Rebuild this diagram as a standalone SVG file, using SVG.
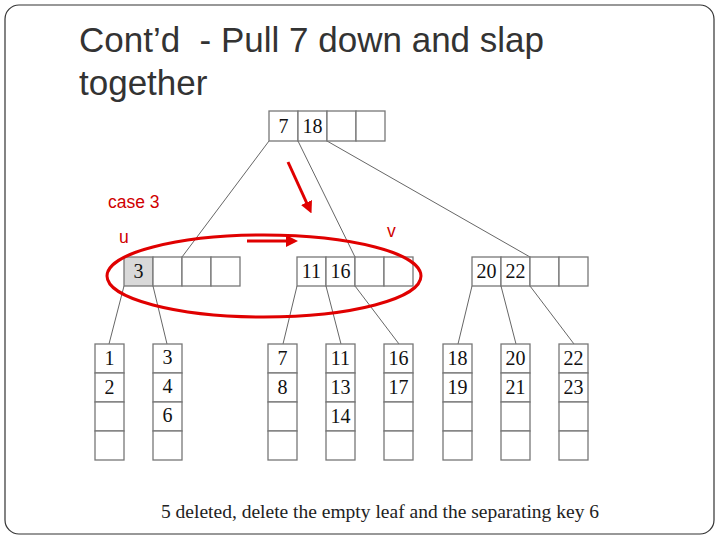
<svg xmlns="http://www.w3.org/2000/svg" width="720" height="540" viewBox="0 0 720 540">
<style>
.c{fill:#fff;stroke:#777;stroke-width:1.3}
.g{fill:#d9d9d9;stroke:#777;stroke-width:1.3}
.t{font-family:"Liberation Serif",serif;font-size:20px;fill:#111;text-anchor:middle}
.e{stroke:#555;stroke-width:0.9;fill:none}
.r{font-family:"Liberation Sans",sans-serif;font-size:17.5px;fill:#d00000}
</style>
<defs><marker id="ah" markerWidth="4" markerHeight="4" refX="2" refY="2" orient="auto"><path d="M0,0L4,2L0,4z" fill="#e00000"/></marker></defs>
<rect x="5" y="5" width="709" height="529" rx="14" fill="#fff" stroke="#333" stroke-width="1.2"/>
<text x="79" y="52" font-family="Liberation Sans,sans-serif" font-size="35" fill="#333" xml:space="preserve">Cont’d  - Pull 7 down and slap</text>
<text x="79" y="95" font-family="Liberation Sans,sans-serif" font-size="35" fill="#333">together</text>
<g id="connectors">
<path class="e" d="M269,141L182,257M298,141L355,257M327,141L530,257M124,286L109,344M153,286L167,344M297,286L283,344M326,286L341,344M355,286L399,344M472,286L458,344M501,286L516,344M530,286L574,344"/>
</g>
<g id="root"><rect class="c" x="269" y="111" width="29" height="30"/><rect class="c" x="298" y="111" width="29" height="30"/><rect class="c" x="327" y="111" width="29" height="30"/><rect class="c" x="356" y="111" width="29" height="30"/><text class="t" x="283.5" y="133">7</text><text class="t" x="312.5" y="133">18</text></g>
<g id="u"><rect class="g" x="124" y="257" width="29" height="29"/><rect class="c" x="153" y="257" width="29" height="29"/><rect class="c" x="182" y="257" width="29" height="29"/><rect class="c" x="211" y="257" width="29" height="29"/><text class="t" x="138.5" y="278">3</text></g>
<g id="v"><rect class="c" x="297" y="257" width="29" height="29"/><rect class="c" x="326" y="257" width="29" height="29"/><rect class="c" x="355" y="257" width="29" height="29"/><rect class="c" x="384" y="257" width="29" height="29"/><text class="t" x="311.5" y="278">11</text><text class="t" x="340.5" y="278">16</text></g>
<g id="right"><rect class="c" x="472" y="257" width="29" height="29"/><rect class="c" x="501" y="257" width="29" height="29"/><rect class="c" x="530" y="257" width="29" height="29"/><rect class="c" x="559" y="257" width="29" height="29"/><text class="t" x="486.5" y="278">20</text><text class="t" x="515.5" y="278">22</text></g>
<g id="leaves">
<g id="l1"><rect class="c" x="95" y="344" width="29" height="29"/><rect class="c" x="95" y="373" width="29" height="29"/><rect class="c" x="95" y="402" width="29" height="29"/><rect class="c" x="95" y="431" width="29" height="29"/><text class="t" x="109.5" y="365">1</text><text class="t" x="109.5" y="394">2</text></g>
<g id="l2"><rect class="c" x="153" y="344" width="29" height="29"/><rect class="c" x="153" y="373" width="29" height="29"/><rect class="c" x="153" y="402" width="29" height="29"/><rect class="c" x="153" y="431" width="29" height="29"/><text class="t" x="167.5" y="364">3</text><text class="t" x="167.5" y="393">4</text><text class="t" x="167.5" y="422">6</text></g>
<g id="l3"><rect class="c" x="268" y="344" width="29" height="29"/><rect class="c" x="268" y="373" width="29" height="29"/><rect class="c" x="268" y="402" width="29" height="29"/><rect class="c" x="268" y="431" width="29" height="29"/><text class="t" x="282.5" y="365">7</text><text class="t" x="282.5" y="394">8</text></g>
<g id="l4"><rect class="c" x="326" y="344" width="29" height="29"/><rect class="c" x="326" y="373" width="29" height="29"/><rect class="c" x="326" y="402" width="29" height="29"/><rect class="c" x="326" y="431" width="29" height="29"/><text class="t" x="340.5" y="365">11</text><text class="t" x="340.5" y="394">13</text><text class="t" x="340.5" y="423">14</text></g>
<g id="l5"><rect class="c" x="384" y="344" width="29" height="29"/><rect class="c" x="384" y="373" width="29" height="29"/><rect class="c" x="384" y="402" width="29" height="29"/><rect class="c" x="384" y="431" width="29" height="29"/><text class="t" x="398.5" y="365">16</text><text class="t" x="398.5" y="394">17</text></g>
<g id="l6"><rect class="c" x="443" y="344" width="29" height="29"/><rect class="c" x="443" y="373" width="29" height="29"/><rect class="c" x="443" y="402" width="29" height="29"/><rect class="c" x="443" y="431" width="29" height="29"/><text class="t" x="457.5" y="365">18</text><text class="t" x="457.5" y="394">19</text></g>
<g id="l7"><rect class="c" x="501" y="344" width="29" height="29"/><rect class="c" x="501" y="373" width="29" height="29"/><rect class="c" x="501" y="402" width="29" height="29"/><rect class="c" x="501" y="431" width="29" height="29"/><text class="t" x="515.5" y="365">20</text><text class="t" x="515.5" y="394">21</text></g>
<g id="l8"><rect class="c" x="559" y="344" width="29" height="29"/><rect class="c" x="559" y="373" width="29" height="29"/><rect class="c" x="559" y="402" width="29" height="29"/><rect class="c" x="559" y="431" width="29" height="29"/><text class="t" x="573.5" y="365">22</text><text class="t" x="573.5" y="394">23</text></g>
</g>
<g id="annotations">
<ellipse cx="264" cy="276" rx="157" ry="41" fill="none" stroke="#e00000" stroke-width="3"/>
<line x1="288" y1="162" x2="309" y2="208" stroke="#e00000" stroke-width="3" marker-end="url(#ah)"/>
<line x1="247" y1="241" x2="292" y2="241" stroke="#e00000" stroke-width="3" marker-end="url(#ah)"/>
<text class="r" x="108" y="208">case 3</text>
<text class="r" x="119" y="243">u</text>
<text class="r" x="387" y="237">v</text>
</g>
<text x="380" y="518" font-family="Liberation Serif,serif" font-size="19.5" fill="#222" text-anchor="middle">5 deleted, delete the empty leaf and the separating key 6</text>
</svg>
